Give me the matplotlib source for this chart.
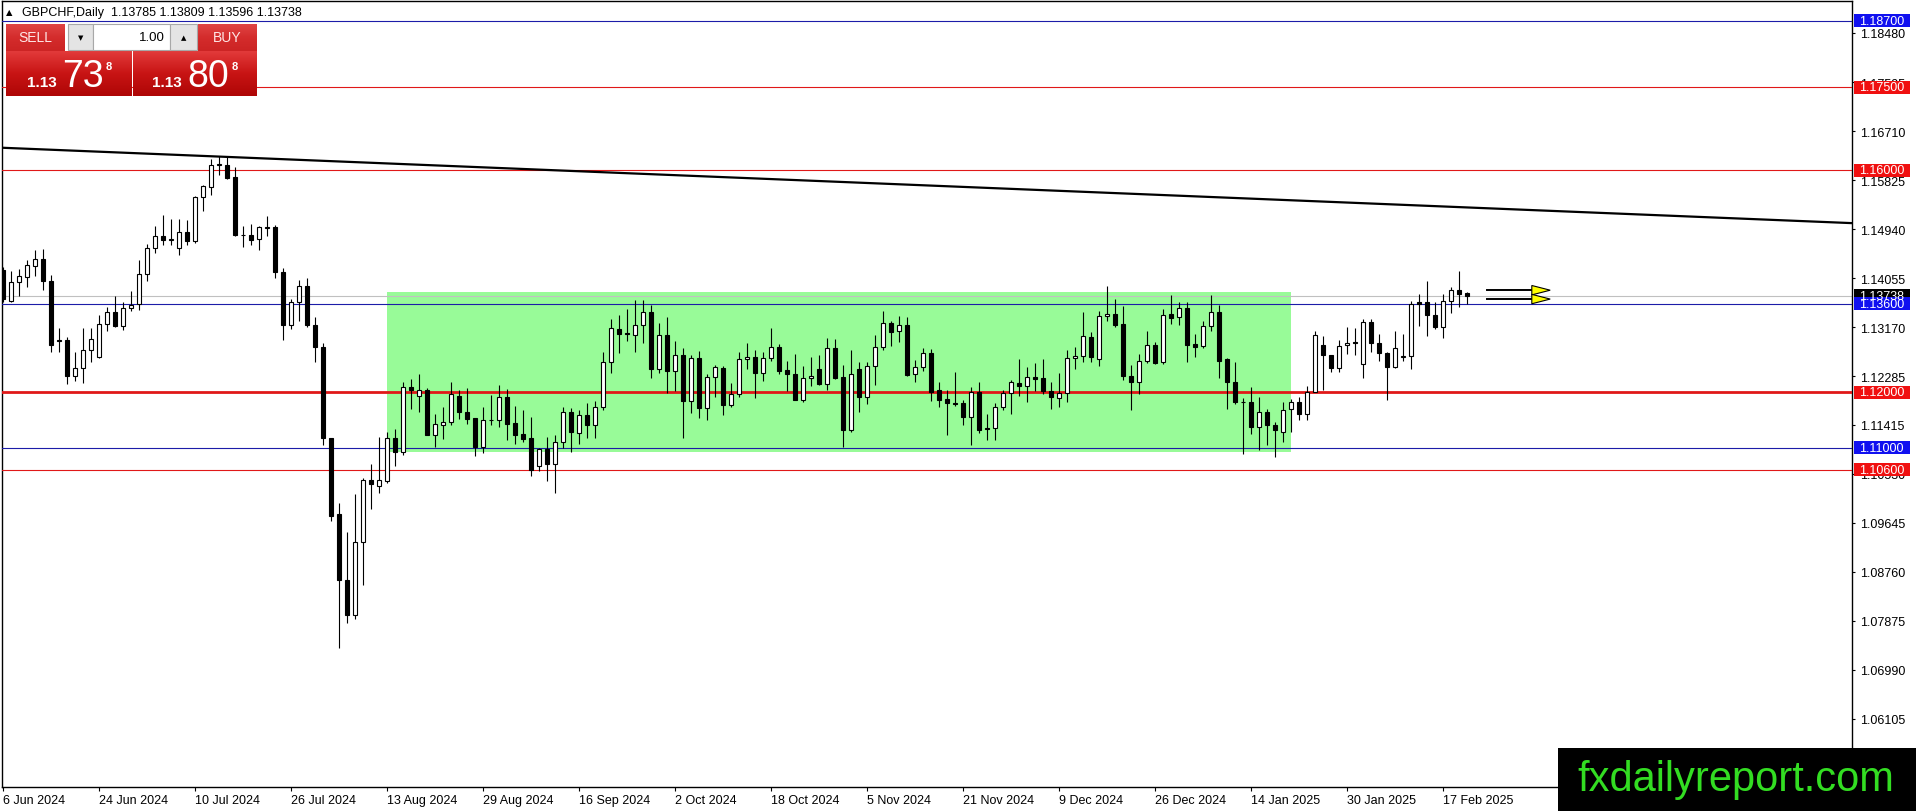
import matplotlib
matplotlib.use('Agg')
import numpy as np
import matplotlib.pyplot as plt
from matplotlib.patches import Rectangle, Polygon
from matplotlib.colors import LinearSegmentedColormap
from matplotlib.transforms import blended_transform_factory

W, H = 1916, 812

# daily candles GBPCHF, 6 Jun 2024 .. 20 Feb 2025
opens = [1.1420, 1.1365, 1.1398, 1.1408, 1.1428, 1.1440, 1.1401, 1.1294, 1.1294, 1.1230,
         1.1243, 1.1276, 1.1263, 1.1323, 1.1344, 1.1320, 1.1352, 1.1359, 1.1414, 1.1460,
         1.1481, 1.1475, 1.1460, 1.1489, 1.1472, 1.1552, 1.1570, 1.1610, 1.1610, 1.1588,
         1.1484, 1.1483, 1.1477, 1.1497, 1.1498, 1.1417, 1.1322, 1.1362, 1.1391, 1.1322,
         1.1281, 1.1117, 1.0980, 1.0861, 1.0798, 1.0929, 1.1042, 1.1030, 1.1040, 1.1117,
         1.1093, 1.1209, 1.1194, 1.1204, 1.1123, 1.1141, 1.1146, 1.1194, 1.1165, 1.1153,
         1.1102, 1.1149, 1.1150, 1.1191, 1.1144, 1.1125, 1.1117, 1.1066, 1.1097, 1.1070,
         1.1110, 1.1164, 1.1126, 1.1158, 1.1141, 1.1174, 1.1254, 1.1314, 1.1307, 1.1304,
         1.1322, 1.1344, 1.1242, 1.1303, 1.1239, 1.1267, 1.1185, 1.1261, 1.1171, 1.1227,
         1.1244, 1.1177, 1.1197, 1.1259, 1.1263, 1.1234, 1.1261, 1.1281, 1.1240, 1.1232,
         1.1186, 1.1225, 1.1242, 1.1215, 1.1279, 1.1227, 1.1132, 1.1241, 1.1191, 1.1248,
         1.1282, 1.1325, 1.1310, 1.1322, 1.1233, 1.1246, 1.1270, 1.1204, 1.1188, 1.1180,
         1.1180, 1.1156, 1.1200, 1.1135, 1.1135, 1.1174, 1.1198, 1.1216, 1.1212, 1.1227,
         1.1225, 1.1203, 1.1189, 1.1198, 1.1261, 1.1266, 1.1299, 1.1259, 1.1337, 1.1341,
         1.1323, 1.1230, 1.1219, 1.1257, 1.1286, 1.1254, 1.1341, 1.1335, 1.1351, 1.1287,
         1.1284, 1.1319, 1.1344, 1.1259, 1.1219, 1.1183, 1.1182, 1.1138, 1.1164, 1.1140,
         1.1128, 1.1170, 1.1183, 1.1160, 1.1201, 1.1286, 1.1268, 1.1243, 1.1285, 1.1290,
         1.1250, 1.1326, 1.1288, 1.1270, 1.1245, 1.1264, 1.1265, 1.1362, 1.1362, 1.1340,
         1.1317, 1.1364, 1.1385, 1.13785]
highs = [1.1425, 1.1418, 1.1423, 1.1438, 1.1457, 1.1459, 1.1412, 1.1316, 1.1299, 1.1272,
         1.1316, 1.1316, 1.1340, 1.1353, 1.1374, 1.1362, 1.1382, 1.1439, 1.1467, 1.1499,
         1.1520, 1.1513, 1.1513, 1.1511, 1.1554, 1.1574, 1.1621, 1.1626, 1.1624, 1.1606,
         1.1499, 1.1504, 1.1499, 1.1518, 1.1502, 1.1424, 1.1368, 1.1402, 1.1406, 1.1335,
         1.1289, 1.1118, 1.1001, 1.0947, 1.1016, 1.1046, 1.1071, 1.1120, 1.1128, 1.1134,
         1.1218, 1.1224, 1.1233, 1.1207, 1.1161, 1.1174, 1.1219, 1.1204, 1.1207, 1.1153,
         1.1173, 1.1195, 1.1213, 1.1206, 1.1176, 1.1168, 1.1155, 1.1100, 1.1119, 1.1123,
         1.1173, 1.1171, 1.1167, 1.1180, 1.1185, 1.1272, 1.1332, 1.1339, 1.1350, 1.1367,
         1.1367, 1.1357, 1.1325, 1.1335, 1.1293, 1.1279, 1.1267, 1.1275, 1.1233, 1.1249,
         1.1247, 1.1216, 1.1272, 1.1289, 1.1276, 1.1273, 1.1315, 1.1287, 1.1257, 1.1269,
         1.1247, 1.1263, 1.1267, 1.1297, 1.1296, 1.1249, 1.1277, 1.1255, 1.1254, 1.1303,
         1.1346, 1.1329, 1.1338, 1.1335, 1.1258, 1.1279, 1.1278, 1.1219, 1.1204, 1.1236,
         1.1186, 1.1209, 1.1219, 1.1161, 1.1180, 1.1204, 1.1222, 1.1260, 1.1245, 1.1253,
         1.1260, 1.1219, 1.1235, 1.1277, 1.1281, 1.1345, 1.1308, 1.1346, 1.1392, 1.1368,
         1.1355, 1.1249, 1.1269, 1.1310, 1.1291, 1.1350, 1.1375, 1.1362, 1.1362, 1.1305,
         1.1329, 1.1375, 1.1357, 1.1261, 1.1254, 1.1189, 1.1209, 1.1191, 1.1170, 1.1146,
         1.1182, 1.1188, 1.1192, 1.1211, 1.1311, 1.1302, 1.1268, 1.1295, 1.1317, 1.1315,
         1.1332, 1.1332, 1.1305, 1.1273, 1.1311, 1.1305, 1.1365, 1.1377, 1.1400, 1.1362,
         1.1378, 1.1389, 1.1418, 1.13809]
lows = [1.1362, 1.1362, 1.1373, 1.1390, 1.1409, 1.1385, 1.1272, 1.1273, 1.1214, 1.1221,
        1.1217, 1.1254, 1.1262, 1.1310, 1.1317, 1.1313, 1.1346, 1.1349, 1.1400, 1.1452,
        1.1466, 1.1465, 1.1447, 1.1466, 1.1469, 1.1526, 1.1556, 1.1591, 1.1585, 1.1481,
        1.1462, 1.1466, 1.1456, 1.1481, 1.1406, 1.1295, 1.1314, 1.1329, 1.1318, 1.1254,
        1.1104, 1.0968, 1.0738, 1.0784, 1.0791, 1.0852, 1.0989, 1.1019, 1.1037, 1.1066,
        1.1087, 1.1170, 1.1165, 1.1123, 1.1102, 1.1116, 1.1140, 1.1152, 1.1143, 1.1085,
        1.1091, 1.1140, 1.1138, 1.1114, 1.1107, 1.1110, 1.1049, 1.1057, 1.1040, 1.1019,
        1.1099, 1.1093, 1.1106, 1.1117, 1.1117, 1.1167, 1.1235, 1.1271, 1.1293, 1.1273,
        1.1289, 1.1226, 1.1234, 1.1198, 1.1203, 1.1117, 1.1162, 1.1153, 1.1149, 1.1191,
        1.1159, 1.1173, 1.1191, 1.1242, 1.1189, 1.1221, 1.1257, 1.1232, 1.1203, 1.1186,
        1.1182, 1.1211, 1.1213, 1.1204, 1.1224, 1.1102, 1.1129, 1.1164, 1.1179, 1.1213,
        1.1276, 1.1284, 1.1291, 1.1230, 1.1218, 1.1239, 1.1185, 1.1174, 1.1122, 1.1176,
        1.1141, 1.1104, 1.1126, 1.1113, 1.1114, 1.1168, 1.1161, 1.1194, 1.1183, 1.1203,
        1.1197, 1.1170, 1.1174, 1.1183, 1.1241, 1.1254, 1.1255, 1.1247, 1.1329, 1.1318,
        1.1222, 1.1168, 1.1197, 1.1252, 1.1250, 1.1250, 1.1323, 1.1322, 1.1254, 1.1263,
        1.1279, 1.1311, 1.1225, 1.1170, 1.1179, 1.1089, 1.1125, 1.1095, 1.1104, 1.1084,
        1.1110, 1.1129, 1.1149, 1.1149, 1.1200, 1.1204, 1.1236, 1.1237, 1.1269, 1.1267,
        1.1225, 1.1272, 1.1257, 1.1186, 1.1243, 1.1257, 1.1241, 1.1319, 1.1302, 1.1314,
        1.1297, 1.1342, 1.1353, 1.13596]
closes = [1.1368, 1.1398, 1.1409, 1.1430, 1.1440, 1.1401, 1.1286, 1.1292, 1.1230, 1.1243,
          1.1276, 1.1296, 1.1323, 1.1344, 1.1320, 1.1352, 1.1358, 1.1414, 1.1460, 1.1481,
          1.1475, 1.1476, 1.1489, 1.1472, 1.1552, 1.1572, 1.1610, 1.1611, 1.1587, 1.1484,
          1.1483, 1.1475, 1.1498, 1.1498, 1.1417, 1.1322, 1.1362, 1.1391, 1.1322, 1.1281,
          1.1117, 1.0977, 1.0861, 1.0798, 1.0929, 1.1042, 1.1034, 1.1042, 1.1117, 1.1093,
          1.1209, 1.1204, 1.1204, 1.1123, 1.1143, 1.1146, 1.1196, 1.1165, 1.1152, 1.1102,
          1.1149, 1.1150, 1.1191, 1.1143, 1.1122, 1.1116, 1.1060, 1.1097, 1.1070, 1.1110,
          1.1164, 1.1129, 1.1158, 1.1141, 1.1174, 1.1254, 1.1315, 1.1305, 1.1305, 1.1322,
          1.1344, 1.1242, 1.1303, 1.1239, 1.1267, 1.1185, 1.1261, 1.1171, 1.1227, 1.1245,
          1.1177, 1.1197, 1.1259, 1.1263, 1.1234, 1.1261, 1.1281, 1.1239, 1.1232, 1.1186,
          1.1225, 1.1230, 1.1215, 1.1279, 1.1225, 1.1132, 1.1232, 1.1191, 1.1248, 1.1282,
          1.1325, 1.1308, 1.1322, 1.1231, 1.1245, 1.1270, 1.1201, 1.1186, 1.1180, 1.1179,
          1.1156, 1.1200, 1.1132, 1.1133, 1.1174, 1.1198, 1.1219, 1.1212, 1.1227, 1.1224,
          1.1203, 1.1192, 1.1198, 1.1261, 1.1266, 1.1301, 1.1264, 1.1337, 1.1341, 1.1322,
          1.1230, 1.1219, 1.1257, 1.1286, 1.1252, 1.1340, 1.1334, 1.1351, 1.1286, 1.1282,
          1.1319, 1.1344, 1.1257, 1.1219, 1.1182, 1.1182, 1.1138, 1.1164, 1.1140, 1.1131,
          1.1167, 1.1183, 1.1161, 1.1201, 1.1304, 1.1268, 1.1243, 1.1284, 1.1288, 1.1289,
          1.1326, 1.1288, 1.1270, 1.1245, 1.1280, 1.1265, 1.1360, 1.1359, 1.1340, 1.1318,
          1.1364, 1.1385, 1.1378, 1.13738]

date_ticks = list(range(0, 181, 12))
date_labels = ['6 Jun 2024', '24 Jun 2024', '10 Jul 2024', '26 Jul 2024', '13 Aug 2024',
               '29 Aug 2024', '16 Sep 2024', '2 Oct 2024', '18 Oct 2024', '5 Nov 2024',
               '21 Nov 2024', '9 Dec 2024', '26 Dec 2024', '14 Jan 2025', '30 Jan 2025',
               '17 Feb 2025']

price_ticks = [1.18480, 1.17595, 1.16710, 1.15825, 1.14940, 1.14055, 1.13170, 1.12285,
               1.11415, 1.10530, 1.09645, 1.08760, 1.07875, 1.06990, 1.06105]
price_tick_labels = ['%.5f' % p for p in price_ticks]

levels = [1.18700, 1.17500, 1.16000, 1.13600, 1.12000, 1.11000, 1.10600]
level_colors = ['blue', 'red', 'red', 'blue', 'red', 'blue', 'red']
level_widths = [0.8, 0.8, 0.8, 0.8, 2.0, 0.8, 0.8]

last_price = 1.13738
range_bars = (48, 161)
range_prices = (1.1092, 1.1380)
trend_x = [-0.125, 231.125]
trend_y = [1.1641, 1.1505]
arrow_levels = [1.1384, 1.1368]

line_col = {'blue': '#1c1ca8', 'red': '#e01818'}
box_col = {'blue': '#1010f0', 'red': '#f01010'}

plt.rcParams['font.family'] = ['Liberation Sans', 'DejaVu Sans']

fig = plt.figure(figsize=(W / 100, H / 100), dpi=100, facecolor='white')
ax = fig.add_axes([2 / W, (H - 788) / H, 1850 / W, 786 / H])
ax.set_xlim(-0.125, 231.125)
ax.set_ylim(1.04878, 1.19057)

# consolidation range
ax.add_patch(Rectangle((range_bars[0], range_prices[0]), range_bars[1] - range_bars[0],
                       range_prices[1] - range_prices[0], facecolor='#98fb98',
                       edgecolor='none', zorder=1))

ax.axhline(last_price, color='#c0c0c0', lw=0.8, zorder=2)
for lv, kind, lw in zip(levels, level_colors, level_widths):
    ax.axhline(lv, color=line_col[kind], lw=lw, zorder=3)

# candles
x = np.arange(len(opens))
o = np.array(opens)
c = np.array(closes)
ax.vlines(x, lows, highs, color='black', lw=0.8, zorder=4)
bottoms = np.minimum(o, c)
heights = np.maximum(np.abs(c - o), 0.00003)
body_colors = ['white' if cc >= oo else 'black' for oo, cc in zip(o, c)]
ax.bar(x, heights, bottom=bottoms, width=0.56, color=body_colors,
       edgecolor='black', linewidth=0.8, zorder=5)

# trend line
ax.plot(trend_x, trend_y, color='black', lw=1.6, zorder=6, solid_capstyle='butt')

# arrows on the right
for lv in arrow_levels:
    ax.plot([185.5, 191.3], [lv, lv], color='black', lw=1.4, zorder=6)
    ax.add_patch(Polygon([(191.1, lv + 0.00085), (191.1, lv - 0.00085), (193.4, lv)],
                         closed=True, facecolor='#ffff00', edgecolor='black',
                         lw=0.8, zorder=7))

# axes styling
for s in ax.spines.values():
    s.set_color('black')
    s.set_linewidth(1.0)
ax.set_xticks(date_ticks)
ax.set_xticklabels(date_labels, ha='left')
ax.yaxis.tick_right()
ax.set_yticks(price_ticks)
ax.set_yticklabels(price_tick_labels)
ax.tick_params(axis='x', direction='out', length=3, width=0.8, pad=2, labelsize=9)
ax.tick_params(axis='y', direction='out', length=2.5, width=0.8, pad=3, labelsize=9)

# price labels on the right scale
blend = blended_transform_factory(fig.transFigure, ax.transData)
box_h = 13 * (1.19057 - 1.04878) / 786


def price_box(value, color):
    ax.add_patch(Rectangle((1854 / W, value - box_h / 2), 56 / W, box_h, transform=blend,
                           facecolor=color, edgecolor='none', clip_on=False, zorder=8))
    ax.text(1859 / W, value, '%.5f' % value, transform=blend, ha='left', va='center',
            color='white', fontsize=9, clip_on=False, zorder=9)


price_box(last_price, 'black')
for lv, kind in zip(levels, level_colors):
    price_box(lv, box_col[kind])


# header and trade panel, in pixel coordinates
def fr(x0, y0, x1, y1):
    return [x0 / W, 1 - y1 / H, (x1 - x0) / W, (y1 - y0) / H]


fig.text(6 / W, 1 - 13 / H, '\u25b2', fontsize=6, va='center', ha='left', zorder=10,
         family=['DejaVu Sans'])
fig.text(22 / W, 1 - 13 / H, 'GBPCHF,Daily  1.13785 1.13809 1.13596 1.13738',
         fontsize=9, va='center', ha='left', zorder=10)

red_grad = LinearSegmentedColormap.from_list('rg', ['#e23a3a', '#c81414', '#ae0606'])
grad = np.linspace(0, 1, 64).reshape(-1, 1)


def grad_box(x0, y0, x1, y1, cmap):
    a = fig.add_axes(fr(x0, y0, x1, y1), zorder=10)
    a.imshow(grad, aspect='auto', cmap=cmap, extent=[0, 1, 1, 0])
    a.set_axis_off()
    return a


btn_grad = LinearSegmentedColormap.from_list('bg', ['#e04444', '#d42c2c', '#cc2424'])
grad_box(6, 25, 65, 52, btn_grad)
grad_box(198, 25, 257, 52, btn_grad)
grad_box(6, 52, 131, 97, red_grad)
grad_box(133, 52, 257, 97, red_grad)

for x0, x1, fc in [(68, 93, '#e4e4e4'), (93, 170, 'white'), (170, 197, '#e4e4e4')]:
    fig.add_artist(Rectangle((x0 / W, 1 - 51 / H), (x1 - x0) / W, 26 / H,
                             transform=fig.transFigure, facecolor=fc,
                             edgecolor='#a8a8a8', lw=0.8, zorder=11))

fig.text(35.5 / W, 1 - 38 / H, 'SELL', color='#ffe6e6', fontsize=10, ha='center',
         va='center', zorder=12)
fig.text(227.5 / W, 1 - 38 / H, 'BUY', color='#ffe6e6', fontsize=10, ha='center',
         va='center', zorder=12)
fig.text(80.5 / W, 1 - 38 / H, '\u25bc', fontsize=5, ha='center', va='center',
         zorder=12, family=['DejaVu Sans'])
fig.text(183.5 / W, 1 - 38 / H, '\u25b2', fontsize=5, ha='center', va='center',
         zorder=12, family=['DejaVu Sans'])
fig.text(165 / W, 1 - 38 / H, '1.00', fontsize=9.5, ha='right', va='center', zorder=12)

for xs, big, xb, x8 in [(27, '73', 62, 106), (152, '80', 187, 232)]:
    fig.text(xs / W, 1 - 87 / H, '1.13', color='white', fontsize=11, fontweight='bold',
             ha='left', va='baseline', zorder=12)
    fig.text(xb / W, 1 - 87 / H, big, color='white', fontsize=27, ha='left',
             va='baseline', zorder=12)
    fig.text(x8 / W, 1 - 70 / H, '8', color='white', fontsize=8, fontweight='bold',
             ha='left', va='baseline', zorder=12)

# watermark
fig.add_artist(Rectangle((1558 / W, 0), (W - 1558) / W, (H - 749) / H,
                         transform=fig.transFigure, facecolor='black',
                         edgecolor='none', zorder=13))
fig.text(1736 / W, 1 - 780 / H, 'fxdailyreport.com', color='#33dd22', fontsize=30,
         ha='center', va='center', zorder=14)

fig.savefig('out.png', dpi=100, facecolor='white')
